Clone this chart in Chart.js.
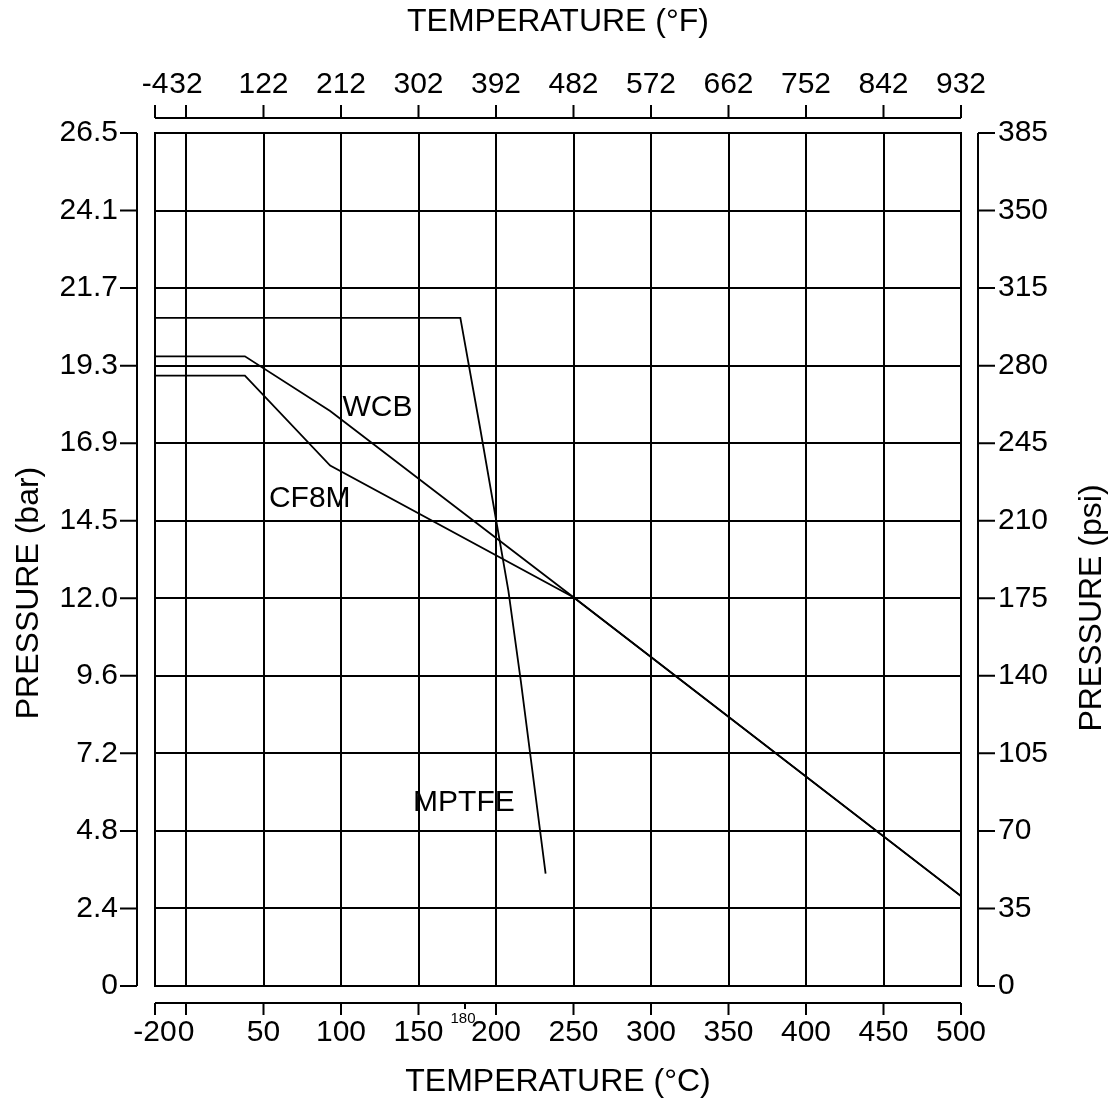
<!DOCTYPE html>
<html>
<head>
<meta charset="utf-8">
<script src="https://cdn.jsdelivr.net/npm/chart.js@4"></script>
<style>
  body { margin: 0; background: #fff; }
  canvas { display: block; }
</style>
</head>
<body>
<canvas id="ratingChart" width="1113" height="1102"></canvas>
<script>
// temperature / pressure ratings (°C, bar)
const wcbTemp = [-20, 38, 93, 250, 500];
const wcbBar = [19.6, 19.6, 17.9, 12.1, 2.8];

const cf8mTemp = [-20, 38, 93, 250, 500];
const cf8mBar = [19.0, 19.0, 16.2, 12.1, 2.8];

const mptfeTemp = [-20, 177, 190, 208, 216, 232];
const mptfeBar = [20.8, 20.8, 17.3, 12.3, 9.5, 3.5];

// axis ticks
const cTicks = [-20, 0, 50, 100, 150, 200, 250, 300, 350, 400, 450, 500];
const fTicks = [-4, 32, 122, 212, 302, 392, 482, 572, 662, 752, 842, 932];
const psiTicks = [0, 35, 70, 105, 140, 175, 210, 245, 280, 315, 350, 385];
const barLabels = ['0', '2.4', '4.8', '7.2', '9.6', '12.0', '14.5', '16.9', '19.3', '21.7', '24.1', '26.5'];
const PSI_PER_BAR = 14.5;

// curve names, anchored in data units (°C, bar) at the left end of the text
const curveNames = [
  { text: 'WCB', t: 101, p: 17.75 },
  { text: 'CF8M', t: 53.5, p: 14.9 },
  { text: 'MPTFE', t: 146.5, p: 5.45 }
];

const FONT = '"Liberation Sans", Arial, sans-serif';
const toPts = (xs, ys) => xs.map((x, i) => ({ x: x, y: ys[i] }));

const lineStyle = {
  showLine: true,
  borderColor: '#000',
  borderWidth: 1.8,
  pointRadius: 0,
  tension: 0,
  fill: false
};

// axes drawn a little away from the plot frame, like the original sheet
const offsetAxes = {
  id: 'offsetAxes',
  afterDraw(chart) {
    const { ctx, chartArea: a, scales } = chart;
    ctx.save();
    ctx.strokeStyle = '#000';
    ctx.lineWidth = 2;
    ctx.beginPath();
    // left (bar)
    const lx = a.left - 18;
    ctx.moveTo(lx, a.top); ctx.lineTo(lx, a.bottom);
    scales.y.ticks.forEach(tk => {
      const py = scales.y.getPixelForValue(tk.value);
      ctx.moveTo(lx - 17, py); ctx.lineTo(lx, py);
    });
    // right (psi)
    const rx = a.right + 17;
    ctx.moveTo(rx, a.top); ctx.lineTo(rx, a.bottom);
    scales.y2.ticks.forEach(tk => {
      const py = scales.y2.getPixelForValue(tk.value);
      ctx.moveTo(rx, py); ctx.lineTo(rx + 17, py);
    });
    // top (°F)
    const ty = a.top - 15;
    ctx.moveTo(a.left, ty); ctx.lineTo(a.right, ty);
    scales.x2.ticks.forEach(tk => {
      const px = scales.x2.getPixelForValue(tk.value);
      ctx.moveTo(px, ty); ctx.lineTo(px, ty - 13);
    });
    // bottom (°C)
    const by = a.bottom + 17;
    ctx.moveTo(a.left, by); ctx.lineTo(a.right, by);
    scales.x.ticks.forEach(tk => {
      const px = scales.x.getPixelForValue(tk.value);
      ctx.moveTo(px, by); ctx.lineTo(px, by + 12);
    });
    const p180 = scales.x.getPixelForValue(180);
    ctx.moveTo(p180, by); ctx.lineTo(p180, by + 6);
    ctx.stroke();

    ctx.fillStyle = '#000';
    ctx.font = '15px ' + FONT;
    ctx.textAlign = 'center';
    ctx.textBaseline = 'alphabetic';
    ctx.fillText('180', p180 - 2, by + 20);

    // curve names
    ctx.font = '30px ' + FONT;
    ctx.textAlign = 'left';
    curveNames.forEach(c => {
      ctx.fillText(c.text, scales.x.getPixelForValue(c.t), scales.y.getPixelForValue(c.p));
    });

    // side titles, both reading bottom to top, sitting a bit low like the original
    ctx.font = '32px ' + FONT;
    ctx.textAlign = 'center';
    ctx.textBaseline = 'middle';
    const sideTitle = (text, x, y) => {
      ctx.save();
      ctx.translate(x, y);
      ctx.rotate(-Math.PI / 2);
      ctx.fillText(text, 0, 0);
      ctx.restore();
    };
    sideTitle('PRESSURE (bar)', 29, 593);
    sideTitle('PRESSURE (psi)', 1092, 608);
    ctx.restore();
  }
};

const tickFont = { family: FONT, size: 30 };
const titleFont = { family: FONT, size: 32 };

new Chart(document.getElementById('ratingChart'), {
  type: 'scatter',
  data: {
    datasets: [
      Object.assign({ label: 'WCB', data: toPts(wcbTemp, wcbBar) }, lineStyle),
      Object.assign({ label: 'CF8M', data: toPts(cf8mTemp, cf8mBar) }, lineStyle),
      Object.assign({ label: 'MPTFE', data: toPts(mptfeTemp, mptfeBar) }, lineStyle)
    ]
  },
  options: {
    responsive: false,
    animation: false,
    layout: { padding: 0 },
    plugins: { legend: { display: false }, tooltip: { enabled: false } },
    scales: {
      x: {
        type: 'linear', position: 'bottom', min: -20, max: 500,
        afterBuildTicks: s => { s.ticks = cTicks.map(v => ({ value: v })); },
        afterFit: s => { s.height = 116; },
        grid: { color: '#000', lineWidth: 2, drawTicks: false },
        border: { display: true, color: '#000', width: 2 },
        ticks: { color: '#000', font: tickFont, padding: 29, autoSkip: false, maxRotation: 0, callback: v => String(v) },
        title: { display: true, text: 'TEMPERATURE (°C)', color: '#000', font: titleFont, padding: { top: 0, bottom: 1 } }
      },
      x2: {
        type: 'linear', position: 'top', min: -4, max: 932,
        afterBuildTicks: s => { s.ticks = fTicks.map(v => ({ value: v })); },
        afterFit: s => { s.height = 133; },
        grid: { display: false, drawTicks: false },
        border: { display: true, color: '#000', width: 2 },
        ticks: { color: '#000', font: tickFont, padding: 30, autoSkip: false, maxRotation: 0, callback: v => String(v) },
        title: { display: true, text: 'TEMPERATURE (°F)', color: '#000', font: titleFont, padding: { top: 3, bottom: 0 } }
      },
      y: {
        type: 'linear', position: 'left', min: 0, max: 385 / PSI_PER_BAR,
        afterBuildTicks: s => { s.ticks = psiTicks.map(p => ({ value: p / PSI_PER_BAR })); },
        afterFit: s => { s.width = 155; },
        grid: { color: '#000', lineWidth: 2, drawTicks: false },
        border: { display: true, color: '#000', width: 2 },
        ticks: { color: '#000', font: tickFont, padding: 37, autoSkip: false, callback: (v, i) => barLabels[i] }
      },
      y2: {
        type: 'linear', position: 'right', min: 0, max: 385,
        afterBuildTicks: s => { s.ticks = psiTicks.map(v => ({ value: v })); },
        afterFit: s => { s.width = 152; },
        grid: { display: false, drawTicks: false },
        border: { display: true, color: '#000', width: 2 },
        ticks: { color: '#000', font: tickFont, padding: 37, autoSkip: false, callback: v => String(v) }
      }
    }
  },
  plugins: [offsetAxes]
});
</script>
</body>
</html>
